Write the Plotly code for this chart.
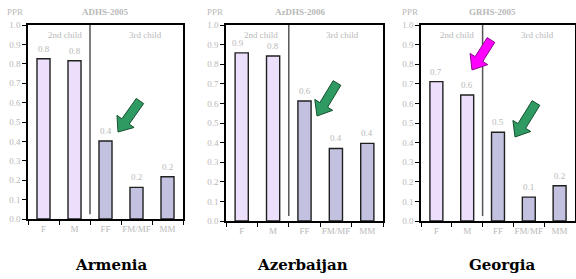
import plotly.graph_objects as go
import numpy as np

W, H = 576, 279

categories = ["F", "M", "FF", "FM/MF", "MM"]
countries = ["Armenia", "Azerbaijan", "Georgia"]
surveys = ["ADHS-2005", "AzDHS-2006", "GRHS-2005"]
armenia = [0.826, 0.816, 0.402, 0.163, 0.218]
azerbaijan = [0.858, 0.842, 0.612, 0.370, 0.396]
georgia = [0.711, 0.643, 0.453, 0.122, 0.180]
labels_armenia = ["0.8", "0.8", "0.4", "0.2", "0.2"]
labels_azerbaijan = ["0.9", "0.8", "0.6", "0.4", "0.4"]
labels_georgia = ["0.7", "0.6", "0.5", "0.1", "0.2"]
y_ticks = [0.0, 0.1, 0.2, 0.3, 0.4, 0.5, 0.6, 0.7, 0.8, 0.9, 1.0]

values = [armenia, azerbaijan, georgia]
value_labels = [labels_armenia, labels_azerbaijan, labels_georgia]

# pixel layout of each panel: (left, right, y_of_zero, y_of_one)
panels = [(28, 183, 219, 25), (226, 383, 221, 25), (421, 575, 221, 25)]
child2_x = [0.69, 0.6, 0.66]
child3_x = [3.3, 3.2, 3.27]
header_x = [(15, 105), (215, 300), (410, 492)]
country_x = [111, 302, 502]

GRAY = "#b8b8b8"
SERIF = "Liberation Serif, Times New Roman, serif"
c2 = "#ecdffb"
c3 = "#c2c2e0"

fig = go.Figure()
layout = dict(width=W, height=H, margin=dict(l=0, r=0, t=0, b=0, autoexpand=False),
              plot_bgcolor="white", paper_bgcolor="white", showlegend=False,
              font=dict(family=SERIF, size=9, color=GRAY))
annotations = []
shapes = []

def px(x):
    return x / W

def py(y):
    return 1 - y / H

for i in range(3):
    s = "" if i == 0 else str(i + 1)
    l, r, y0, y1 = panels[i]
    colors = [c2, c2, c3, c3, c3]
    fig.add_trace(go.Bar(x=categories, y=values[i], xaxis="x" + s, yaxis="y" + s,
                         marker=dict(color=colors, line=dict(color="#202020", width=1.4)),
                         width=0.42, hoverinfo="skip"))
    layout["xaxis" + s] = dict(domain=[px(l), px(r)], anchor="y" + s, automargin=False,
                               showline=True, linecolor="black", linewidth=1.5, mirror=True,
                               ticks="outside", tickson="boundaries", ticklen=4, tickcolor="black",
                               tickangle=0,
                               tickfont=dict(family=SERIF, size=9, color=GRAY),
                               showgrid=False, fixedrange=True)
    layout["yaxis" + s] = dict(domain=[py(y0), py(y1)], anchor="x" + s, range=[0, 1],
                               automargin=False,
                               tickvals=y_ticks, ticktext=[f"{t:.1f}" for t in y_ticks],
                               showline=True, linecolor="black", linewidth=1.5, mirror=True,
                               ticks="outside", ticklen=4, tickcolor="black",
                               tickfont=dict(family=SERIF, size=9, color=GRAY),
                               showgrid=False, zeroline=False, fixedrange=True)
    # divider between 2nd and 3rd child
    shapes.append(dict(type="line", xref="x" + s, yref="y" + s, x0=1.5, x1=1.5, y0=0.025, y1=1,
                       line=dict(color="#555555", width=1.5)))
    for j, (c, v, t) in enumerate(zip(categories, values[i], value_labels[i])):
        annotations.append(dict(x=c, y=v, xref="x" + s, yref="y" + s, text=t, showarrow=False,
                                yshift=10, xshift=(-4 if (i == 1 and j == 0) else 0),
                                font=dict(family=SERIF, size=9, color=GRAY)))
    annotations.append(dict(x=child2_x[i], y=0.95, xref="x" + s, yref="y" + s, text="2nd child",
                            showarrow=False, font=dict(family=SERIF, size=9, color=GRAY)))
    annotations.append(dict(x=child3_x[i], y=0.95, xref="x" + s, yref="y" + s, text="3rd child",
                            showarrow=False, font=dict(family=SERIF, size=9, color=GRAY)))
    # headers
    annotations.append(dict(x=px(header_x[i][0]), y=py(11.5), xref="paper", yref="paper",
                            xanchor="center", yanchor="middle", text="PPR",
                            showarrow=False, font=dict(family=SERIF, size=9, color=GRAY)))
    annotations.append(dict(x=px(header_x[i][1]), y=py(11.5), xref="paper", yref="paper",
                            xanchor="center", yanchor="middle",
                            text="<b>" + surveys[i] + "</b>",
                            showarrow=False, font=dict(family=SERIF, size=9, color=GRAY)))
    # country name
    annotations.append(dict(x=px(country_x[i]), y=py(265), xref="paper", yref="paper",
                            xanchor="center", yanchor="middle",
                            text="<b>" + countries[i] + "</b>", showarrow=False,
                            font=dict(family="DejaVu Serif, serif", size=15, color="black")))

def block_arrow(tail, tip, fill, edge, hw=4.5, HW=10.5, HL=13):
    t = np.array(tail, float)
    p = np.array(tip, float)
    d = p - t
    u = d / np.linalg.norm(d)
    n = np.array([-u[1], u[0]])
    neck = p - u * HL
    pts = [t + n * hw, neck + n * hw, neck + n * HW, p, neck - n * HW, neck - n * hw, t - n * hw]
    path = "M " + " L ".join(f"{px(q[0]):.5f},{py(q[1]):.5f}" for q in pts) + " Z"
    return dict(type="path", xref="paper", yref="paper", path=path,
                fillcolor=fill, line=dict(color=edge, width=1))

GREEN, GREEN_E = "#2f9a62", "#16502f"
PINK, PINK_E = "#ff00ff", "#8a0a8a"
shapes.append(block_arrow((140, 101), (118, 132), GREEN, GREEN_E))
shapes.append(block_arrow((337, 83), (317, 116), GREEN, GREEN_E))
shapes.append(block_arrow((536, 103), (515, 137), GREEN, GREEN_E))
shapes.append(block_arrow((491, 40), (472, 70), PINK, PINK_E))

layout["annotations"] = annotations
layout["shapes"] = shapes
fig.update_layout(**layout)
fig.write_html("out.html", config={"displayModeBar": False},
               post_script="document.body.style.margin='0';document.body.style.overflow='hidden';")
